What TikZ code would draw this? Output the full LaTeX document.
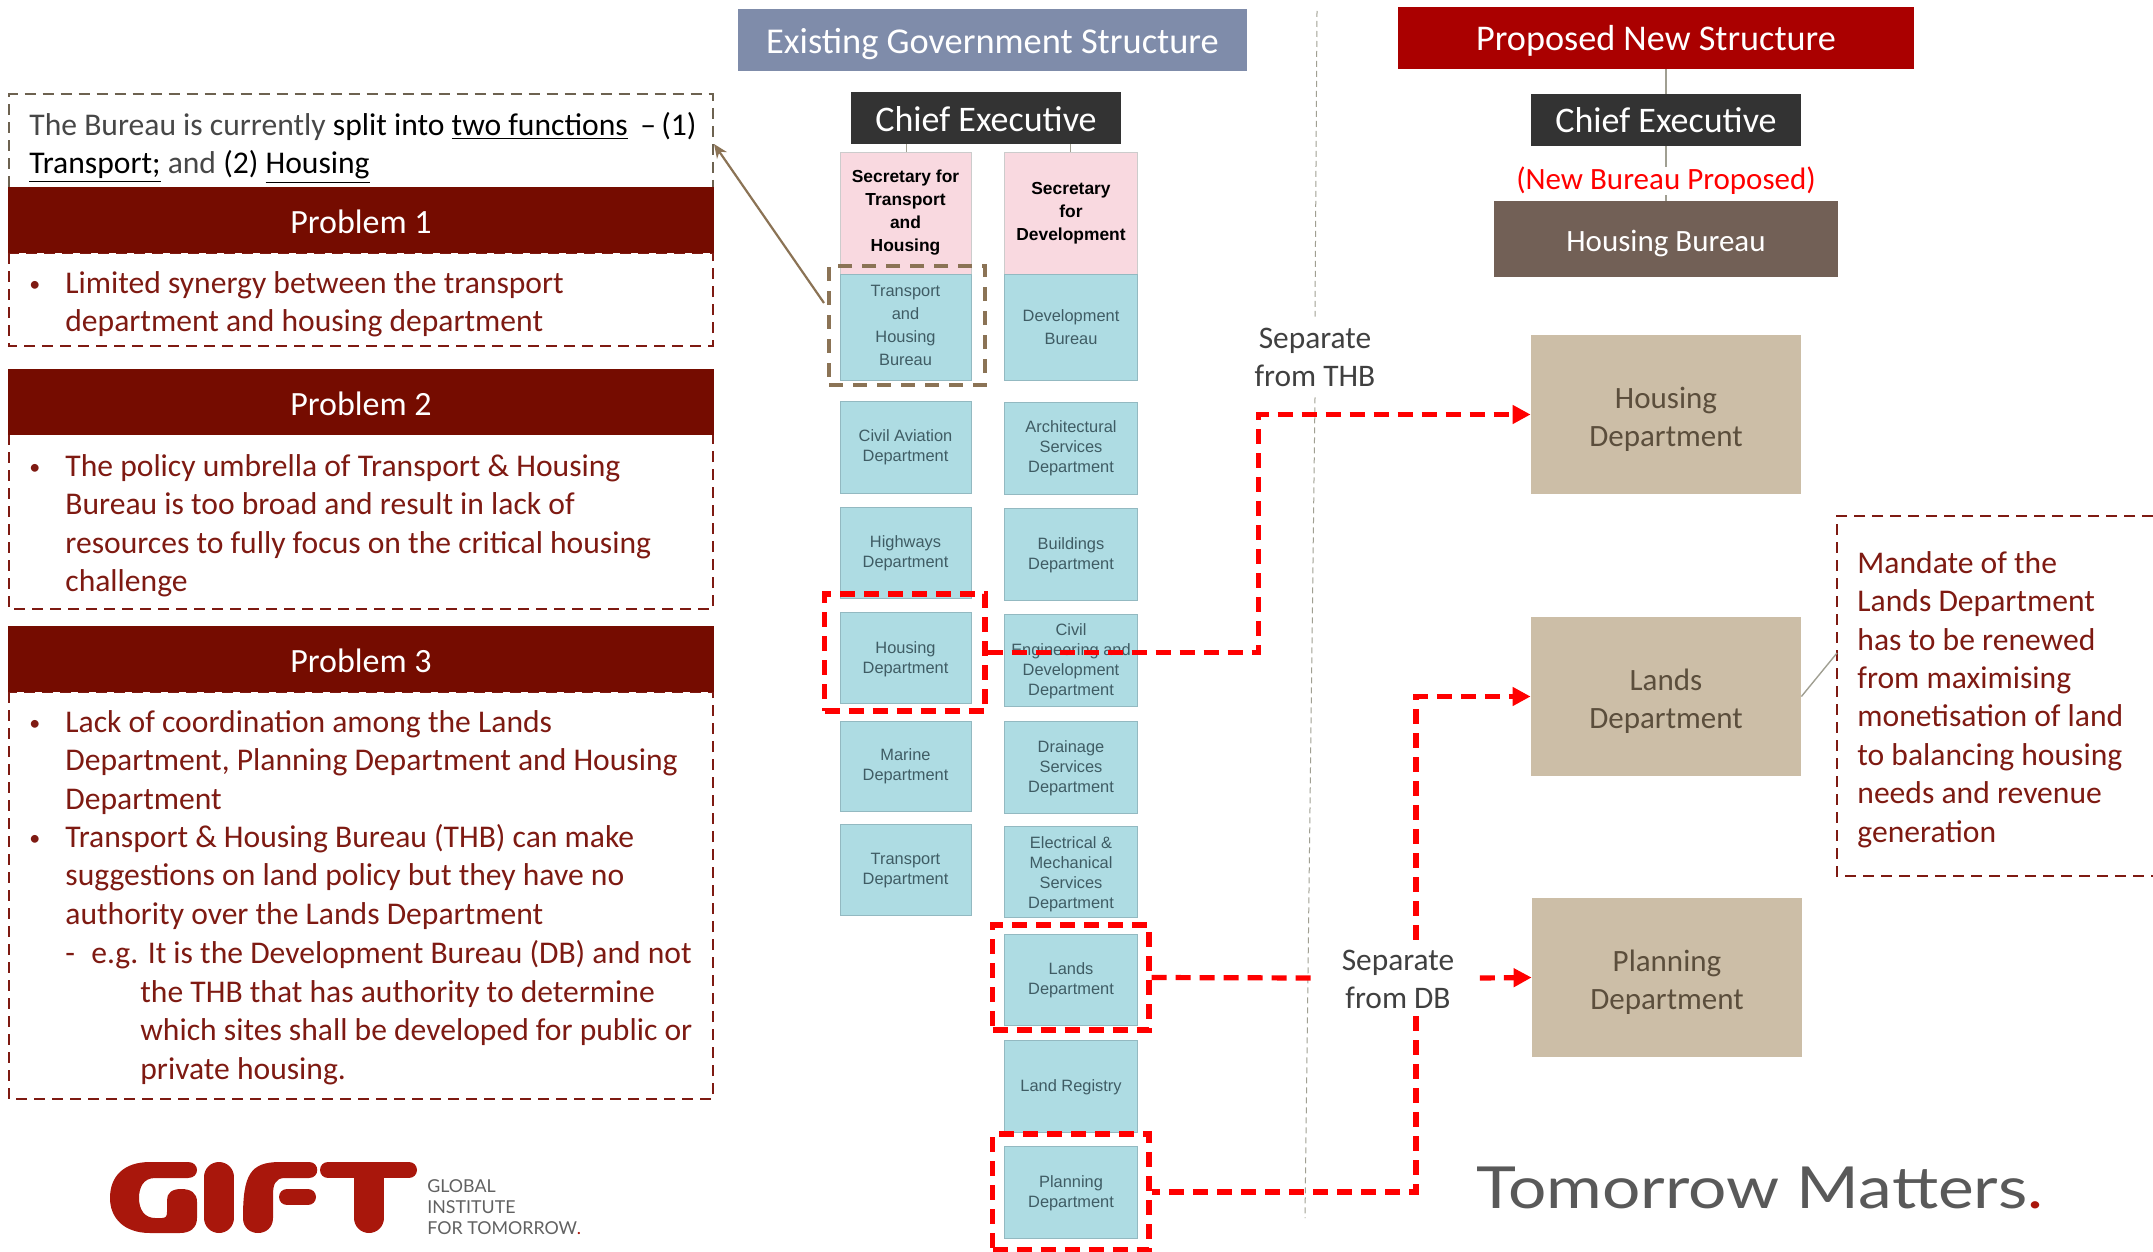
\documentclass[tikz,border=0pt]{standalone}
\usepackage{fontspec}
\setmainfont{Carlito}
\newfontfamily\arialf{Liberation Sans}
\newfontfamily\latof{Lato}
\newfontfamily\latow[FakeStretch=1.167]{Lato}
\usetikzlibrary{arrows.meta}
\definecolor{probred}{HTML}{750C00}
\definecolor{txtred}{HTML}{7E1A12}
\definecolor{brownd}{HTML}{8B7355}
\definecolor{topdash}{HTML}{6D6250}
\definecolor{deptfill}{HTML}{AEDCE3}
\definecolor{deptline}{HTML}{93B9C1}
\definecolor{deptxt}{HTML}{3F5C64}
\definecolor{pinkf}{HTML}{F9D9E0}
\definecolor{tanf}{HTML}{CCBEA7}
\definecolor{tant}{HTML}{5B4E3C}
\definecolor{logored}{HTML}{A9170C}
\definecolor{greyl}{HTML}{A09F92}
\newcommand{\shiftdown}[2]{\raisebox{-#1pt}[\height][\depth]{#2}}
\newcommand{\lowered}[2]{\shiftdown{#1}{\begin{tabular}{@{}c@{}}#2\end{tabular}}}
\newcommand{\smallbul}{{\fontsize{11}{19.2}\selectfont •}}
\tikzset{
  x=0.5pt,y=-0.5pt,
  probhead/.style={fill=probred,text=white,minimum width=353pt,inner sep=0pt,font=\fontsize{17}{19}\selectfont},
  probbody/.style={draw=txtred,line width=0.9pt,dash pattern=on 5.5pt off 3.5pt},
  bodytxt/.style={anchor=north west,inner sep=0pt,align=left,text=txtred,font=\fontsize{15.8}{19.2}\selectfont,execute at begin node=\strut},
  reddash/.style={draw=red,line width=2.6pt,dash pattern=on 7.5pt off 4.5pt},
  redframe/.style={draw=red,line width=2.6pt,dash pattern=on 7.5pt off 4.5pt,inner sep=0pt},
  redarrow/.style={reddash,-{Triangle[length=9pt,width=9pt,fill=red]}},
  secbox/.style={draw=black!20,fill=pinkf,line width=0.4pt,inner sep=0pt,align=center,text=black,font=\arialf\bfseries\fontsize{8.7}{11.5}\selectfont},
  deptbox/.style={draw=deptline,fill=deptfill,line width=0.5pt,inner sep=0pt,align=center,text=deptxt,font=\arialf\fontsize{8.2}{10}\selectfont},
  lcol/.style={minimum width=65.5pt},
  rcol/.style={minimum width=66.5pt},
  newdept/.style={fill=tanf,text=tant,minimum width=135pt,minimum height=79.5pt,inner sep=0pt,align=center,font=\fontsize{15.5}{19.2}\selectfont},
  greyconn/.style={draw=greyl,line width=0.5pt},
  sidelabel/.style={inner sep=0pt,align=center,text=black!75,font=\fontsize{15.7}{19}\selectfont},
  logobar/.style={draw=logored,line cap=round}
}
\begin{document}
\begin{tikzpicture}
\useasboundingbox (0,0) rectangle (2153,1252);
% left panel
\draw[draw=topdash,line width=1pt,dash pattern=on 5.5pt off 3.5pt] (9,187) -- (9,94.5) -- (713,94.5) -- (713,187);
\node[bodytxt,text=black!72] (intro) at (29,112) {The Bureau is currently {\color{black}split into \underline{two functions} \,–\,(1)}\\{\color{black}\underline{Transport;}} and {\color{black}(2) \underline{Housing}}};
\draw[probbody] (9,253) rectangle (713,346);
\draw[probbody] (9,434) rectangle (713,609);
\draw[probbody] (9,692) rectangle (713,1099);
\node[probhead,minimum height=33pt] (p1) at (361,220) {\shiftdown{0.7}{Problem 1}};
\node[probhead,minimum height=33pt] (p2) at (361,402) {\shiftdown{0.7}{Problem 2}};
\node[probhead,minimum height=33pt] (p3) at (361,659) {\shiftdown{0.7}{Problem 3}};
\node[bodytxt] (b1a) at (29,264) {\smallbul};
\node[bodytxt] (b1) at (65,271) {Limited synergy between the transport\\department and housing department};
\node[bodytxt] (b2a) at (29,447) {\smallbul};
\node[bodytxt] (b2) at (65,454) {The policy umbrella of Transport \& Housing\\Bureau is too broad and result in lack of\\resources to fully focus on the critical housing\\challenge};
\node[bodytxt] (b3a) at (29,703) {\smallbul};
\node[bodytxt] (b3) at (65,710) {Lack of coordination among the Lands\\Department, Planning Department and Housing\\Department};
\node[bodytxt] (b3b) at (29,818) {\smallbul};
\node[bodytxt] (b3c) at (65,824) {Transport \& Housing Bureau (THB) can make\\suggestions on land policy but they have no\\authority over the Lands Department};
\node[bodytxt] (b3d) at (65,936.5) {-};
\node[bodytxt] (b3e) at (91,936.5) {e.g. It is the Development Bureau (DB) and not};
\node[bodytxt] (b3f) at (140,980) {the THB that has authority to determine\\which sites shall be developed for public or\\private housing.};
% logo
\fill[logored] (188,1162) .. controls (200,1162) and (200,1178) .. (188,1178) -- (155,1178) .. controls (143,1178) and (139,1188) .. (139,1198) .. controls (139,1210) and (145,1218) .. (155,1218) -- (162,1218) .. controls (166,1218) and (167,1216) .. (167,1212) -- (167,1200) .. controls (167,1193) and (172,1189) .. (181,1189) .. controls (191,1189) and (197,1193) .. (197,1202) -- (197,1218) .. controls (197,1228) and (190,1233) .. (180,1233) -- (150,1233) .. controls (124,1233) and (110,1218) .. (110,1198) .. controls (110,1176) and (124,1162) .. (150,1162) -- cycle;
\draw[logobar,line width=15pt] (219,1177) -- (219,1218);
\fill[logored] (243,1218) .. controls (243,1175) and (250,1162) .. (280,1162) -- (309,1162) .. controls (320,1162) and (320,1178) .. (309,1178) -- (285,1178) .. controls (275,1178) and (273,1185) .. (273,1195) -- (273,1218) .. controls (273,1238) and (243,1238) .. (243,1218) -- cycle;
\draw[logobar,line width=8pt] (287,1197) -- (308,1197);
\draw[logobar,line width=8pt] (328,1170) -- (409,1170);
\draw[logobar,line width=15pt] (369,1178) -- (369,1218);
\node[anchor=west,inner sep=0pt,text=black!62,font=\latof\fontsize{8.9}{10.4}\selectfont,align=left] (logotxt) at (427,1207) {GLOBAL\\INSTITUTE\\FOR TOMORROW{\color{logored}.}};
% centre
\node[fill={rgb,255:red,127;green,140;blue,170},text=white,minimum width=254.5pt,minimum height=31pt,inner sep=0pt,font=\fontsize{18.2}{20}\selectfont] (existing) at (992.5,40) {\shiftdown{2}{Existing Government Structure}};
\node[fill={rgb,255:red,51;green,51;blue,51},text=white,minimum width=135pt,minimum height=26pt,inner sep=0pt,font=\fontsize{18}{20}\selectfont] (ce1) at (986,118) {\shiftdown{0.7}{Chief Executive}};
\node[secbox,lcol,minimum height=61pt] (s1) at (905.5,213) {Secretary for\\Transport\\and\\Housing};
\node[secbox,rcol,minimum height=61pt] (s2) at (1071,213) {Secretary\\for\\Development};
\node[deptbox,lcol,minimum height=53pt,font=\arialf\fontsize{8.2}{11.5}\selectfont] (tb1) at (905.5,327) {\shiftdown{-0.5}{\begin{tabular}{@{}c@{}}Transport\\and\\Housing\\Bureau\end{tabular}}};
\node[deptbox,rcol,minimum height=53pt,font=\arialf\fontsize{8.2}{11.5}\selectfont] (db1) at (1071,327) {Development\\Bureau};
\node[deptbox,lcol,minimum height=46pt] (l1) at (905.5,447) {Civil Aviation\\Department};
\node[deptbox,lcol,minimum height=45.5pt] (l2) at (905.5,552.5) {\lowered{0.7}{Highways\\Department}};
\node[deptbox,lcol,minimum height=45.5pt] (l3) at (905.5,657.5) {\lowered{0.8}{Housing\\Department}};
\node[deptbox,lcol,minimum height=45pt] (l4) at (905.5,766) {Marine\\Department};
\node[deptbox,lcol,minimum height=45.5pt] (l5) at (905.5,869.5) {\lowered{0.7}{Transport\\Department}};
\node[deptbox,rcol,minimum height=46pt] (r1) at (1071,448) {Architectural\\Services\\Department};
\node[deptbox,rcol,minimum height=46pt] (r2) at (1071,554) {\lowered{0.7}{Buildings\\Department}};
\node[deptbox,rcol,minimum height=46pt] (r3) at (1071,660) {\lowered{0.7}{Civil\\Engineering and\\Development\\Department}};
\node[deptbox,rcol,minimum height=46pt] (r4) at (1071,767) {\lowered{0.7}{Drainage\\Services\\Department}};
\node[deptbox,rcol,minimum height=45.5pt] (r5) at (1071,871.5) {\lowered{1.7}{Electrical \&\\Mechanical\\Services\\Department}};
\node[deptbox,rcol,minimum height=45.5pt] (r6) at (1071,979.5) {\lowered{0.7}{Lands\\Department}};
\node[deptbox,rcol,minimum height=46pt] (r7) at (1071,1086) {\shiftdown{0.7}{Land Registry}};
\node[deptbox,rcol,minimum height=46pt] (r8) at (1071,1192) {\lowered{0.7}{Planning\\Department}};
\draw[greyconn] (906,144) -- (s1.north -| 906,144);
\draw[greyconn] (1070,144) -- (s2.north -| 1070,144);
% highlight frames
\node[draw=brownd,line width=1.7pt,dash pattern=on 7pt off 5pt,minimum width=78pt,minimum height=59.5pt,inner sep=0pt] (brownframe) at (907,325.5) {};
\node[redframe,minimum width=80.25pt,minimum height=58.5pt] (fhousing) at (904.75,652.5) {};
\node[redframe,minimum width=78.25pt,minimum height=52.5pt] (flands) at (1070.75,977.5) {};
\node[redframe,minimum width=78.25pt,minimum height=58pt] (fplan) at (1070.75,1192) {};
\coordinate (brownstart) at (824,303);
\coordinate (introtip) at (714,144);
\draw[draw=brownd,line width=1.1pt,-{Stealth[length=7pt,width=6pt]}] (brownstart) -- (introtip);
% divider
\node[sidelabel,minimum width=60pt,minimum height=40pt] (septhb) at (1315,357) {\lowered{1.4}{Separate\\from THB}};
\coordinate (divtop) at (1317,11);
\coordinate (divbot) at (1305,1218);
\draw[greyconn,dash pattern=on 3pt off 2pt] (divtop) -- (septhb.north);
\draw[greyconn,dash pattern=on 3pt off 2pt] (septhb.south) -- (divbot);
\node[sidelabel,minimum width=83.5pt,minimum height=37.5pt] (sepdb) at (1396,978) {\hspace*{2pt}\lowered{2}{Separate\\from DB}};
% right
\node[fill={rgb,255:red,170;green,0;blue,0},text=white,minimum width=258pt,minimum height=31pt,inner sep=0pt,font=\fontsize{18.1}{20}\selectfont] (proposed) at (1656,38) {\shiftdown{1.4}{Proposed New Structure}};
\node[fill={rgb,255:red,51;green,51;blue,51},text=white,minimum width=135pt,minimum height=26pt,inner sep=0pt,font=\fontsize{18}{20}\selectfont] (ce2) at (1666,120) {\shiftdown{0.3}{Chief Executive}};
\node[inner sep=0pt,text=red,font=\fontsize{15.5}{19}\selectfont] (newb) at (1666,181) {(New Bureau Proposed)};
\node[fill={rgb,255:red,114;green,96;blue,86},text=white,minimum width=172pt,minimum height=38pt,inner sep=0pt,font=\fontsize{15.5}{19}\selectfont] (hb) at (1666,239) {\shiftdown{2}{Housing Bureau}};
\node[newdept] (nh) at (1666,414.5) {\lowered{2.7}{Housing\\Department}};
\node[newdept] (nl) at (1666,696.5) {\lowered{2.7}{Lands\\Department}};
\node[newdept] (np) at (1667,977.5) {\lowered{2.7}{Planning\\Department}};
\draw[greyconn,line width=0.7pt] (ce2.north) -- (1666,69);
\draw[greyconn,line width=0.7pt] (ce2.south) -- (newb.north);
\draw[greyconn,line width=0.7pt] (newb.south) -- (hb.north);
% mandate
\draw[draw=txtred,line width=0.9pt,dash pattern=on 5.5pt off 3.5pt] (2153,516) -- (1837,516) -- (1837,876) -- (2153,876);
\node[bodytxt] (mand) at (1857,551) {Mandate of the\\Lands Department\\has to be renewed\\from maximising\\monetisation of land\\to balancing housing\\needs and revenue\\generation};
\coordinate (mandlink) at (1837,653);
\draw[greyconn,line width=0.7pt] (nl.east) -- (mandlink);
% red connectors
\coordinate (dbx) at (1416,978);
\draw[redarrow] (fhousing.east) -- ++(271,0) |- (nh.west);
\draw[reddash] (flands.east) -- (sepdb.west);
\draw[redarrow] (sepdb.east) -- (np.west);
\draw[redarrow] (dbx |- sepdb.north) |- (nl.west);
\draw[reddash] (dbx |- sepdb.south) |- (fplan.east);
% tagline
\node[inner sep=0pt,text=black!65,font=\latow\fontsize{29}{32}\selectfont] (tag) at (1760,1188) {Tomorrow Matters{\color{logored}.}};
\end{tikzpicture}
\end{document}
